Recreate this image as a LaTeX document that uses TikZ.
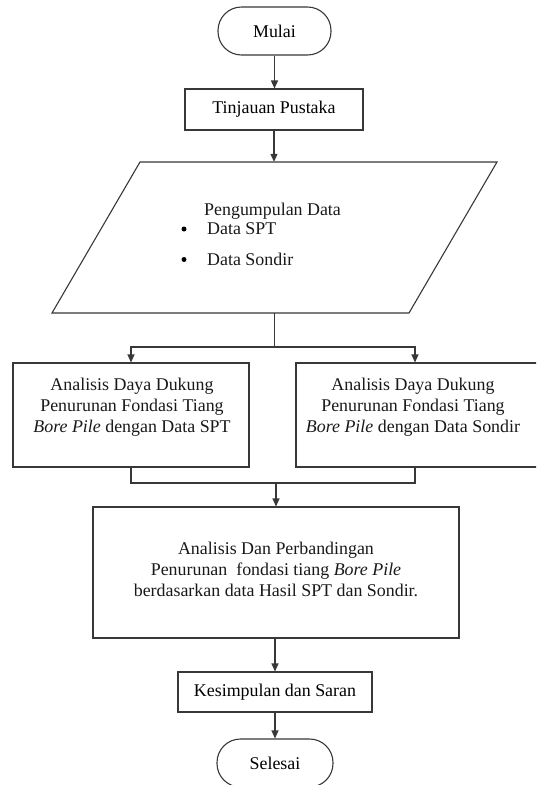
\documentclass[tikz,border=0pt]{standalone}
\usepackage{fontspec}
\setmainfont{Liberation Serif}
\usetikzlibrary{arrows.meta,calc}
\begin{document}
\begin{tikzpicture}[x=1pt,y=-1pt,
  line/.style={draw=black!78,line width=1.1pt},
  arr/.style={line,-{Triangle[length=8pt,width=7pt]}},
  txt/.style={font=\fontsize{17.9pt}{21pt}\selectfont,inner sep=0pt,text=black!90},
  term/.style={line,rounded corners=23.5pt,minimum width=#1,minimum height=48pt,inner sep=0pt,font=\fontsize{17.9pt}{21pt}\selectfont},
  box/.style={line,minimum width=#1,inner sep=0pt,font=\fontsize{17.9pt}{21pt}\selectfont},
  bullet/.style={circle,fill=black,inner sep=0pt,minimum size=5pt}
]
\useasboundingbox (0,0) rectangle (536,785);
\clip (0,0) rectangle (536,785);

% terminals and simple boxes
\node[term=113pt] (mulai) at (274.5,31) {Mulai};
\node[box=178pt,minimum height=41pt] (tinjau) at (274,109.5) {Tinjauan Pustaka};

% parallelogram
\node[minimum width=445pt,minimum height=151pt,inner sep=0pt] (para) at (274.5,237.5) {};
\draw[line] (140,162) -- (497,162) -- (409,313) -- (52,313) -- cycle;
\node[txt,anchor=base west] (pg) at (204,215) {Pengumpulan Data};
\node[bullet] (b1) at (184,229) {};
\node[txt,anchor=base west] (d1) at (207,234.5) {Data SPT};
\node[bullet] (b2) at (184,259.5) {};
\node[txt,anchor=base west] (d2) at (207,265) {Data Sondir};

% two analysis boxes
\node[box=236pt,minimum height=104pt] (L) at (131,415) {};
\node[txt,anchor=base] (L1) at (132,390) {Analisis Daya Dukung};
\node[txt,anchor=base] (L2) at (132,411) {Penurunan Fondasi Tiang};
\node[txt,anchor=base] (L3) at (132,432) {\textit{Bore Pile} dengan Data SPT};

\node[box=246pt,minimum height=104pt] (R) at (419,415) {};
\node[txt,anchor=base] (R1) at (413,390) {Analisis Daya Dukung};
\node[txt,anchor=base] (R2) at (413,411) {Penurunan Fondasi Tiang};
\node[txt,anchor=base] (R3) at (413,432) {\textit{Bore Pile} dengan Data Sondir};
\coordinate (Rin) at ($(R.north)+(-4,0)$);
\coordinate (Rout) at ($(R.south)+(-4,0)$);

% comparison box
\node[box=366pt,minimum height=131pt] (big) at (276,572.5) {};
\node[txt,anchor=base] (B1) at (276,554) {Analisis Dan Perbandingan};
\node[txt,anchor=base] (B2) at (276,575) {Penurunan\ \ fondasi tiang \textit{Bore Pile}};
\node[txt,anchor=base] (B3) at (276,596) {berdasarkan data Hasil SPT dan Sondir.};

\node[box=194pt,minimum height=40pt] (kes) at (275,692) {Kesimpulan dan Saran};
\node[term=116pt] (sel) at (275,763) {Selesai};

% connectors
\coordinate (split) at (274.5,347);
\coordinate (merge) at (276,483);
\draw[arr] (mulai.south) -- (mulai.south |- tinjau.north);
\draw[arr] (tinjau.south) -- (tinjau.south |- para.north);
\draw[line] (para.south) -- (split);
\draw[arr] (split) -| (L.north);
\draw[arr] (split) -| (Rin);
\draw[line] (L.south) |- (merge) -| (Rout);
\draw[arr] (merge) -- (merge |- big.north);
\draw[arr] (big.south -| kes.north) -- (kes.north);
\draw[arr] (kes.south) -- (sel.north);
\end{tikzpicture}
\end{document}
